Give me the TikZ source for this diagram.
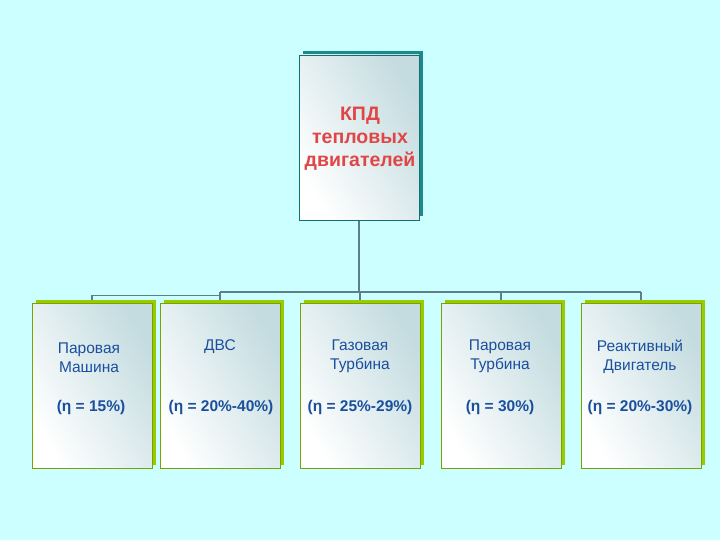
\documentclass[tikz,border=0pt]{standalone}
\usepackage{fontspec}
\setmainfont{Liberation Sans}
\usetikzlibrary{shadows,calc}
\definecolor{bg}{HTML}{CCFFFF}
\definecolor{tealshadow}{HTML}{1B8A8C}
\definecolor{greenshadow}{HTML}{99CC00}
\definecolor{grad}{HTML}{C4DCE0}
\definecolor{conncol}{HTML}{5E7E8A}
\definecolor{titlered}{HTML}{E04646}
\definecolor{textblue}{HTML}{1A4F9E}
\tikzset{
  topbox/.style={draw=tealshadow!80!black, line width=0.6pt, minimum width=120pt, minimum height=165pt,
    left color=white, right color=grad, shading angle=120,
    drop shadow={shadow xshift=4pt, shadow yshift=4pt, fill=tealshadow, opacity=1}},
  subbox/.style={draw=greenshadow!80!black, line width=0.6pt, minimum width=120pt, minimum height=165pt,
    left color=white, right color=grad, shading angle=120,
    drop shadow={shadow xshift=4pt, shadow yshift=3pt, fill=greenshadow, opacity=1}},
  conn/.style={draw=conncol, line width=1.6pt},
  title/.style={text=titlered, font=\fontsize{19.5}{23}\selectfont\bfseries, align=center},
  lbl/.style={text=textblue, font=\fontsize{15.5}{19}\selectfont, align=center},
  eta/.style={text=textblue, font=\fontsize{15.5}{19}\selectfont\bfseries, align=center},
}
\begin{document}
\begin{tikzpicture}[x=1pt,y=-1pt]
\fill[bg] (0,0) rectangle (720,540);
\useasboundingbox (0,0) rectangle (720,540);
\coordinate (bus) at (0,292);
\coordinate (bus2) at (0,295.5);
% nodes (positions)
\path (359,137.5) coordinate (ptop);
\path (92,385.5) coordinate (p1);
\path (220,385.5) coordinate (p2);
\path (360,385.5) coordinate (p3);
\path (501,385.5) coordinate (p4);
\path (641,385.5) coordinate (p5);
% connectors first (behind boxes)
\path (ptop) ++(0,82.5) coordinate (topS);
\draw[conn] (topS) -- (topS |- bus);
\draw[conn] (p2 |- bus) -- (p5 |- bus);
\foreach \p in {p2,p3,p4,p5} { \draw[conn] (\p |- bus) -- ($(\p)+(0,-85)$); }
\draw[conn] ($(p1)+(0,-85)$) -- (p1 |- bus2) -- (p2 |- bus2);
% boxes
\node[topbox] (top) at (ptop) {};
\node[subbox] (b1) at (p1) {};
\node[subbox] (b2) at (p2) {};
\node[subbox] (b3) at (p3) {};
\node[subbox] (b4) at (p4) {};
\node[subbox] (b5) at (p5) {};
% texts
\node[title] (ttop) at (360,139) {КПД\\тепловых\\двигателей};
\node[lbl] (t1) at (89,358) {Паровая\\Машина};
\node[lbl] (t2) at (220,347) {ДВС};
\node[lbl] (t3) at (360,356.5) {Газовая\\Турбина};
\node[lbl] (t4) at (500,356.5) {Паровая\\Турбина};
\node[lbl] (t5) at (640,356.5) {Реактивный\\Двигатель};
\node[eta] (e1) at (91,407) {(η = 15\%)};
\node[eta] (e2) at (221,407) {(η = 20\%-40\%)};
\node[eta] (e3) at (360,407) {(η = 25\%-29\%)};
\node[eta] (e4) at (500,407) {(η = 30\%)};
\node[eta] (e5) at (640,407) {(η = 20\%-30\%)};
\end{tikzpicture}
\end{document}
